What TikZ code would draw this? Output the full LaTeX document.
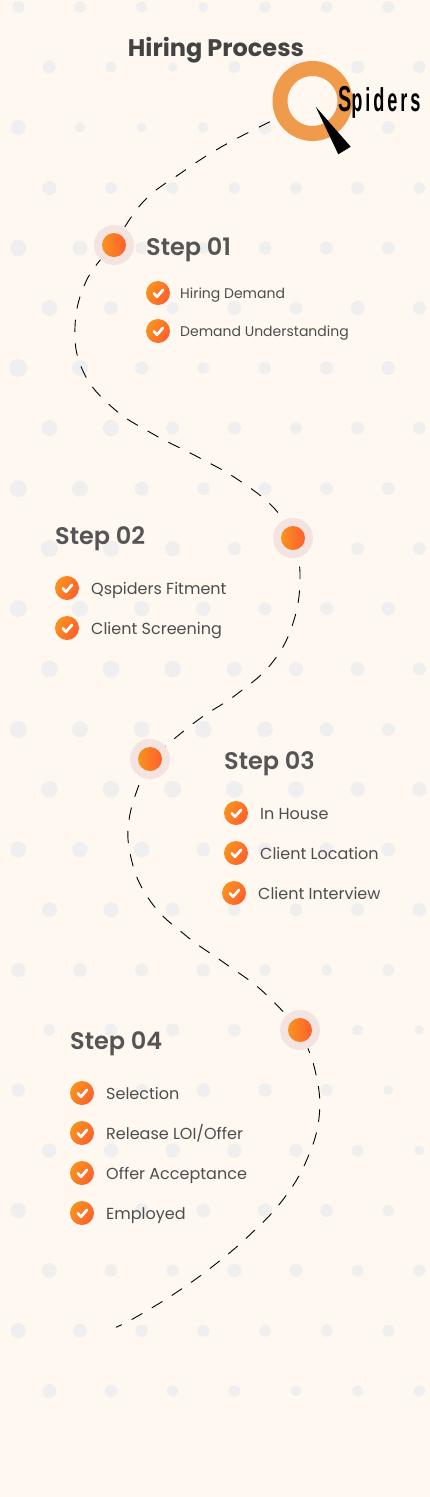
\documentclass[tikz,border=0pt]{standalone}
\usepackage{fontspec}
\setmainfont{Poppins}
\newfontfamily\titlefont{Poppins}[UprightFont=*-Bold]
\newfontfamily\stepfont{Poppins}[UprightFont=*-SemiBold]
\newfontfamily\brandfont{Liberation Sans}[UprightFont=* Bold,LetterSpace=16]
\definecolor{bgc}{HTML}{FFF8F0}
\definecolor{dotc}{HTML}{EFEFEF}
\definecolor{ringc}{HTML}{F3E4E1}
\definecolor{gradl}{HTML}{F7931E}
\definecolor{gradr}{HTML}{FF5F2E}
\definecolor{logoc}{HTML}{F09A4B}
\definecolor{titlec}{HTML}{434343}
\definecolor{stepc}{HTML}{555555}
\definecolor{itemc}{HTML}{4D4D4D}
\tikzset{
  x=1pt,y=-1pt,
  markring/.style={circle,fill=ringc,minimum size=40pt,inner sep=0,outer sep=0},
  markdot/.style={circle,left color=gradl,right color=gradr,minimum size=24pt,inner sep=0,outer sep=0},
  checkdot/.style={circle,left color=gradl,right color=gradr,shading angle=60,minimum size=24pt,inner sep=0,outer sep=0},
  checkmark/.style={draw=white,line width=2.7pt,line cap=round,line join=round},
  itemtext/.style={anchor=base west,inner sep=0,text=itemc,font=\fontsize{16}{18}\selectfont},
  itemsmall/.style={itemtext,font=\fontsize{14}{16}\selectfont},
  stephead/.style={anchor=base west,inner sep=0,text=stepc,font=\stepfont\fontsize{24}{28}\selectfont},
  route/.style={draw=black,line width=0.9pt},
}
\newcommand{\checkitem}[7][itemtext]{% style, name, cx, cy, textx, baseline, text
  \node[checkdot] (#2) at (#3,#4) {};
  \draw[checkmark] ([shift={(-4.2,0.3)}]#2.center) -- ([shift={(-1,3.8)}]#2.center) -- ([shift={(5,-3.2)}]#2.center);
  \node[#1] (#2t) at (#5,#6) {#7};
}
\begin{document}
\begin{tikzpicture}
\useasboundingbox (0,0) rectangle (430,1497);
\fill[bgc] (0,0) rectangle (430,1497);
% dotted backdrop
\foreach \yy/\rl [count=\row from 0] in {
 7/{6,5.7,5.5,5,5.8,5.7,6},
 67/{6.5,5.5,4.7,6,6,6.5,6.2},
 127.5/{7.5,5,4.6,5.3,6.5,6.5,6.5},
 188/{7,6,5.7,5.7,6,6.5,5.7},
 248/{8.3,7.3,6,6,6.5,6.5,6.5},
 308/{8,7,6,7,6.5,7,6.5},
 368/{9,8,6.5,5.7,6,6.5,7},
 428/{8,8,6.5,6.5,6,6.5,6.3},
 488.7/{8.5,8,7,6.3,6.5,6.5,6.5},
 548.7/{8.5,8,7.5,6.5,6,6.3,6.3},
 608.7/{8.5,8,7.7,7.3,6.5,6.5,6.8},
 669/{8.5,8.5,8.3,7.5,7.2,7,6.5},
 729.3/{8.5,8,8,8.5,8,7,6.5},
 789.3/{8.3,8.3,8.5,8.5,8,7.3,7.2},
 849.5/{8,7.7,8,7,7,7,6.8},
 909.7/{7.5,7.5,7,6,6.3,6.5,6.8},
 970/{7.3,6.8,6.5,6.5,5.8,5.5,6},
 1030/{5.7,6.3,6.5,6.5,6,5.5,4.7},
 1090/{6.7,6.5,6,7,6.7,6,5},
 1150.5/{7.2,7,7.3,7.2,6.5,6,5},
 1210.5/{7.8,7,7,7,7,6.5,5.7},
 1270.5/{7.5,6.3,6,7,6.5,6,6},
 1330.7/{7.7,7,6.2,6,6,6,6},
 1391/{7,6.2,5.7,5.8,5.3,5.6,5.7}}{
  \pgfmathsetmacro\off{mod(\row,2)==0?18.3:49.3}
  \foreach \rr [count=\ci from 0] in \rl {
    \pgfmathsetmacro\xx{\off+61.67*\ci}
    \fill[dotc] (\xx,\yy) circle[radius=\rr];
  }
}
% named places
\coordinate (m1c) at (114,245);
\coordinate (m2c) at (293,538);
\coordinate (m3c) at (150,759);
\coordinate (m4c) at (300,1030);
\coordinate (logoend) at (270,121.7);
\coordinate (routeend) at (116,1327.3);
% route
\draw[route,dash pattern=on 12.4pt off 11.8pt] plot[smooth,tension=0.7] coordinates {(logoend) (221.7,146.7) (181,173) (143,202) (m1c)};
\draw[route,dash pattern=on 12.4pt off 11.3pt,dash phase=8.7pt] plot[smooth,tension=0.7] coordinates {(m1c) (86.7,280) (75,327) (83.3,371.7) (113,408) (153,434) (196,456) (237,479) (274,508) (m2c)};
\draw[route,dash pattern=on 12.4pt off 11.4pt,dash phase=18.1pt] plot[smooth,tension=0.7] coordinates {(m2c) (300,573) (294,620) (272.7,662) (237,694) (197,720.7) (m3c)};
\draw[route,dash pattern=on 12.4pt off 11.2pt,dash phase=18.8pt] plot[smooth,tension=0.7] coordinates {(m3c) (130,814) (131.7,860.7) (151.7,903) (186,935.7) (224,962.7) (262,990.7) (m4c)};
\draw[route,dash pattern=on 12.4pt off 11pt,dash phase=11pt] plot[smooth,tension=0.7] coordinates {(m4c) (315,1070) (319.3,1115) (306.7,1160) (282.7,1200) (250.7,1234) (215.7,1264) (177,1292) (136.7,1316.7) (routeend)};
% markers
\foreach \n in {1,2,3,4}{
  \node[markring] (r\n) at (m\n c) {};
  \node[markdot] (m\n) at (m\n c) {};
}
% logo
\node[circle,draw=logoc,line width=15pt,minimum size=65pt,inner sep=0,outer sep=0] (logo) at (312.5,101) {};
\fill[black] (315.7,106.7) -- (350.7,146.7) -- (338.3,154.3) -- cycle;
\node[anchor=base west,inner sep=0] (brand) at (338,111.7) {\scalebox{0.55}[1]{\brandfont\fontsize{36}{36}\selectfont S\fontsize{33}{36}\selectfont piders}};
% title
\node[anchor=base west,inner sep=0,text=titlec,font=\titlefont\fontsize{24}{28}\selectfont] (title) at (127.7,56.5) {Hiring Process};
% headings
\node[stephead] (h1) at (146,255.3) {Step 01};
\node[stephead] (h2) at (55,544.5) {Step 02};
\node[stephead] (h3) at (224,769.5) {Step 03};
\node[stephead] (h4) at (70,1049.5) {Step 04};
% items
\checkitem[itemsmall]{a1}{158}{293}{180}{298.3}{Hiring Demand}
\checkitem[itemsmall]{a2}{158}{331}{180}{336.3}{Demand Understanding}
\checkitem{b1}{67}{588}{91}{594.5}{Qspiders Fitment}
\checkitem{b2}{67}{628}{91}{634.5}{Client Screening}
\checkitem{c1}{236}{813}{260}{819.5}{In House}
\checkitem{c2}{236}{853}{260}{859.5}{Client Location}
\checkitem{c3}{234}{893}{258}{899.5}{Client Interview}
\checkitem{d1}{82}{1093}{106}{1099.5}{Selection}
\checkitem{d2}{82}{1133}{106}{1139.5}{Release LOI/Offer}
\checkitem{d3}{82}{1173}{106}{1179.5}{Offer Acceptance}
\checkitem{d4}{82}{1213}{106}{1219.5}{Employed}
\end{tikzpicture}
\end{document}
